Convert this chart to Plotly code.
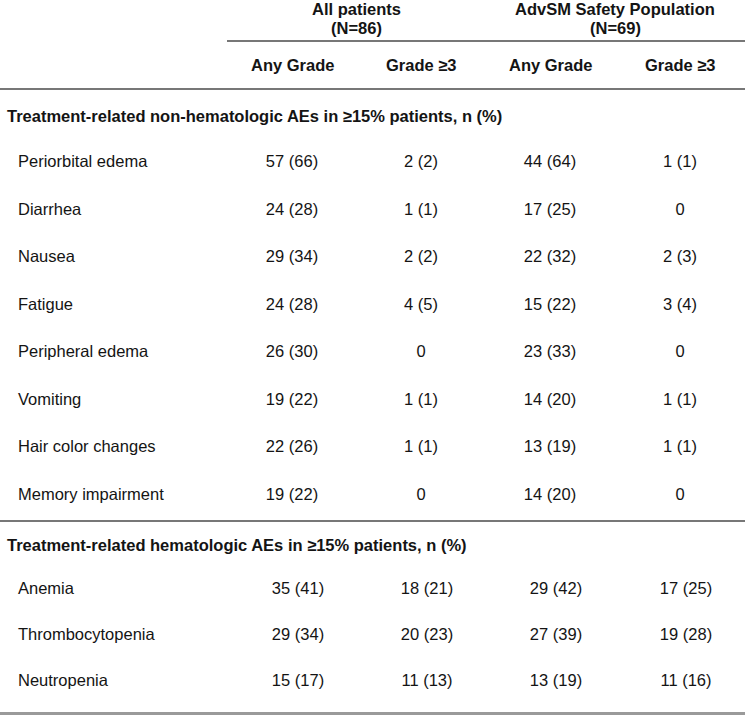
import plotly.graph_objects as go

# ---- table contents ----
group_names = ["All patients", "AdvSM Safety Population"]
group_ns = ["(N=86)", "(N=69)"]
col_titles = ["Any Grade", "Grade ≥3", "Any Grade", "Grade ≥3"]

nonheme_title = "Treatment-related non-hematologic AEs in ≥15% patients, n (%)"
nonheme_aes = [
    "Periorbital edema",
    "Diarrhea",
    "Nausea",
    "Fatigue",
    "Peripheral edema",
    "Vomiting",
    "Hair color changes",
    "Memory impairment",
]
nonheme_all_any_n = [57, 24, 29, 24, 26, 19, 22, 19]
nonheme_all_any_pct = [66, 28, 34, 28, 30, 22, 26, 22]
nonheme_all_g3_n = [2, 1, 2, 4, 0, 1, 1, 0]
nonheme_all_g3_pct = [2, 1, 2, 5, 0, 1, 1, 0]
nonheme_advsm_any_n = [44, 17, 22, 15, 23, 14, 13, 14]
nonheme_advsm_any_pct = [64, 25, 32, 22, 33, 20, 19, 20]
nonheme_advsm_g3_n = [1, 0, 2, 3, 0, 1, 1, 0]
nonheme_advsm_g3_pct = [1, 0, 3, 4, 0, 1, 1, 0]

heme_title = "Treatment-related hematologic AEs in ≥15% patients, n (%)"
heme_aes = ["Anemia", "Thrombocytopenia", "Neutropenia"]
heme_all_any_n = [35, 29, 15]
heme_all_any_pct = [41, 34, 17]
heme_all_g3_n = [18, 20, 11]
heme_all_g3_pct = [21, 23, 13]
heme_advsm_any_n = [29, 27, 13]
heme_advsm_any_pct = [42, 39, 19]
heme_advsm_g3_n = [17, 19, 11]
heme_advsm_g3_pct = [25, 28, 16]

# ---- layout (pixel space) ----
W, H = 745, 715
FONT = "Liberation Sans, Arial, sans-serif"
FS = 16.5
INK = "#141414"
col_x = [292, 421, 550, 680]
group_x = [356.5, 615]
label_x = 18
title_x = 5
nonheme_top, nonheme_step = 163, 47.5
heme_top, heme_step, heme_shift = 590, 46, 6


def fmt(n, p):
    # zero counts are shown without a percentage
    return f"{n} ({p})" if n else "0"


def add_rows(fig, names, columns, y0, step, shift):
    ys = [y0 + i * step for i in range(len(names))]
    fig.add_trace(
        go.Scatter(
            x=[label_x] * len(names),
            y=ys,
            mode="text",
            text=names,
            textposition="middle right",
            textfont={"family": FONT, "size": FS, "color": INK},
            hoverinfo="skip",
        )
    )
    for cx, (ns, ps) in zip(col_x, columns):
        fig.add_trace(
            go.Scatter(
                x=[cx + shift] * len(ns),
                y=ys,
                mode="text",
                text=[fmt(n, p) for n, p in zip(ns, ps)],
                textposition="middle center",
                textfont={"family": FONT, "size": FS, "color": INK},
                hoverinfo="skip",
            )
        )


fig = go.Figure()

add_rows(
    fig,
    nonheme_aes,
    [
        (nonheme_all_any_n, nonheme_all_any_pct),
        (nonheme_all_g3_n, nonheme_all_g3_pct),
        (nonheme_advsm_any_n, nonheme_advsm_any_pct),
        (nonheme_advsm_g3_n, nonheme_advsm_g3_pct),
    ],
    nonheme_top,
    nonheme_step,
    0,
)
add_rows(
    fig,
    heme_aes,
    [
        (heme_all_any_n, heme_all_any_pct),
        (heme_all_g3_n, heme_all_g3_pct),
        (heme_advsm_any_n, heme_advsm_any_pct),
        (heme_advsm_g3_n, heme_advsm_g3_pct),
    ],
    heme_top,
    heme_step,
    heme_shift,
)

bold = {"family": FONT, "size": FS, "color": INK}
annotations = []
for gx, name, n in zip(group_x, group_names, group_ns):
    annotations.append(dict(x=gx, y=9, text=f"<b>{name}</b>", showarrow=False, font=bold))
    annotations.append(dict(x=gx, y=28, text=f"<b>{n}</b>", showarrow=False, font=bold))
for cx, t in zip(col_x, col_titles):
    annotations.append(dict(x=cx, y=65, text=f"<b>{t}</b>", showarrow=False, font=bold))
for ty, t in [(116, nonheme_title), (545, heme_title)]:
    annotations.append(
        dict(x=title_x, y=ty, text=f"<b>{t}</b>", showarrow=False, xanchor="left", font=bold)
    )

rule = {"color": "#4a4a4a", "width": 1.5}
shapes = [
    dict(type="line", x0=227, x1=W, y0=41, y1=41, line=rule),
    dict(type="line", x0=0, x1=W, y0=89, y1=89, line=rule),
    dict(type="line", x0=0, x1=W, y0=521, y1=521, line=rule),
    dict(type="line", x0=0, x1=W, y0=713.5, y1=713.5, line={"color": "#9a9a9a", "width": 3}),
]
for s in shapes:
    s.update(xref="x", yref="y")

fig.update_layout(
    width=W,
    height=H,
    margin={"l": 0, "r": 0, "t": 0, "b": 0},
    paper_bgcolor="white",
    plot_bgcolor="white",
    showlegend=False,
    xaxis={"range": [0, W], "visible": False, "fixedrange": True},
    yaxis={"range": [H, 0], "visible": False, "fixedrange": True},
    annotations=annotations,
    shapes=shapes,
)

fig.write_html(
    "out.html",
    config={"displayModeBar": False},
    post_script="document.body.style.margin='0';document.body.style.overflow='hidden';",
)
